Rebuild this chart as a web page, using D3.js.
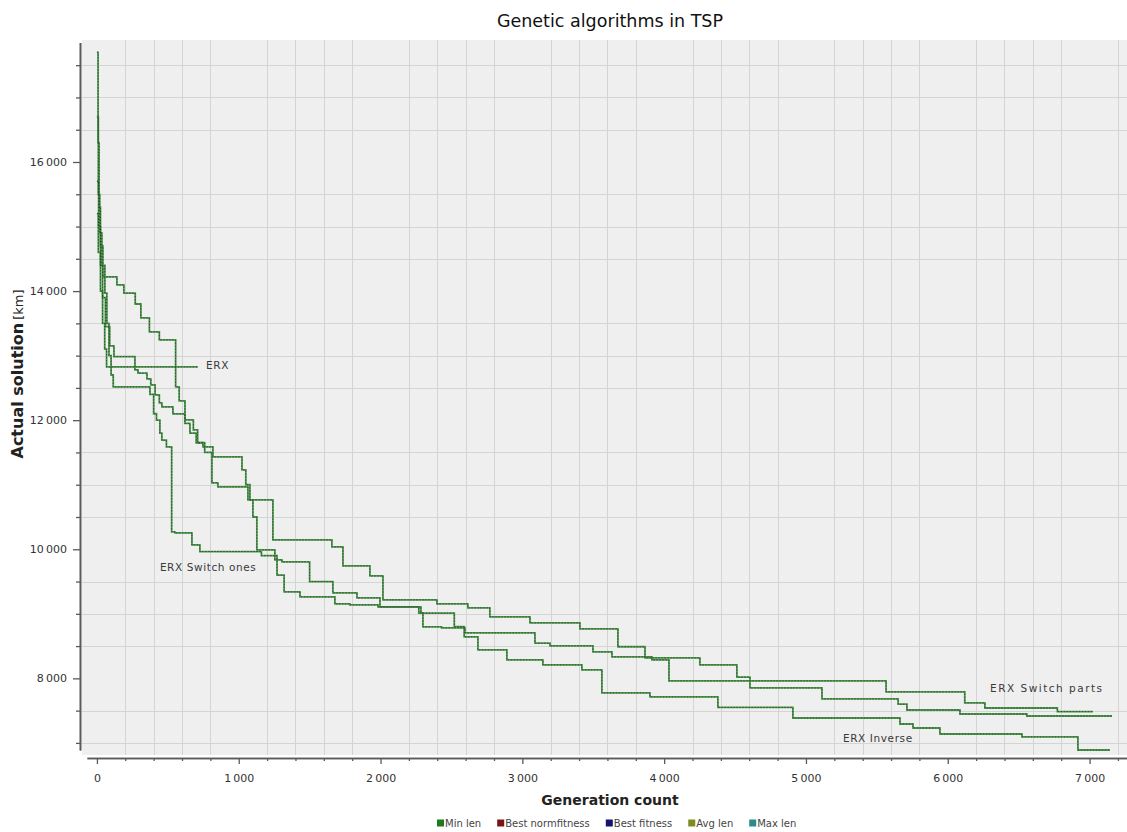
<!DOCTYPE html>
<html>
<head>
<meta charset="utf-8">
<script src="https://cdn.jsdelivr.net/npm/d3@7/dist/d3.min.js"></script>
<style>
  body { margin: 0; background: #fff; }
  svg { display: block; font-family: "DejaVu Sans", Verdana, sans-serif; }
</style>
</head>
<body>
<svg id="chart" width="1127" height="832"></svg>
<script>
// step series: [generation, best length km]
var erx = [[0,15200],[10,14600],[25,14000],[40,13500],[55,13100],[68,12825],[712,12825]];

var erxSwitchOnes = [[0,16700],[10,15500],[20,14900],[35,14400],[56,13970],[70,13500],[85,13000],[100,12700],
  [115,12515],[374,12400],[400,12100],[420,12000],[444,11800],[458,11690],[490,11585],[527,10269],
  [550,10253],[670,10067],[726,9965],[1160,9900],[1270,9600],[1320,9340],[1432,9262],[1678,9154],
  [1784,9138],[1982,9107],[2270,9012],[2520,8800],[2590,8643],[2687,8441],[2891,8286],[3145,8208],
  [3420,8131],[3561,7774],[3900,7712],[4379,7550],[4908,7386],[5663,7293],[5755,7231],[5945,7138],
  [6523,7092],[6918,6890],[7144,6890]];

var erxSwitchParts = [[0,17700],[8,16300],[15,15300],[25,14700],[42,14220],[141,14095],[190,13970],
  [270,13800],[310,13584],[370,13367],[440,13243],[555,12515],[580,12298],[621,12004],[680,11850],
  [710,11650],[748,11585],[818,11431],[1023,11230],[1050,11000],[1079,10765],[1241,10145],
  [1657,10036],[1735,9742],[1925,9587],[2017,9216],[2398,9154],[2616,9092],[2771,8952],[3054,8860],
  [3406,8767],[3674,8490],[3865,8317],[4252,8208],[4513,8020],[4605,7851],[5113,7681],[5650,7600],
  [5712,7510],[6086,7448],[6558,7417],[7158,7417]];

var erxInverse = [[0,15700],[12,15000],[25,14400],[40,13900],[60,13450],[90,13150],[120,12985],
  [268,12780],[290,12730],[353,12640],[380,12546],[410,12391],[440,12267],[458,12205],[536,12097],
  [620,11950],[656,11800],[700,11650],[760,11500],[811,11030],[853,10966],[1065,10765],[1100,10500],
  [1128,9990],[1255,9835],[1305,9804],[1500,9500],[1664,9324],[1834,9246],[1996,9107],[2285,9014],
  [2299,8798],[2430,8782],[2595,8705],[3089,8545],[3195,8503],[3498,8410],[3632,8332],[3914,8286],
  [4034,7960],[5565,7790],[6120,7619],[6262,7541],[6773,7485],[7024,7485]];

var seriesList = [erx, erxSwitchOnes, erxSwitchParts, erxInverse];

// curve annotations: text, generation, value
var noteText = ['ERX', 'ERX Switch ones', 'ERX Switch parts', 'ERX Inverse'];
var noteGen = [770, 444, 6298, 5261];
var noteVal = [12790, 9670, 7790, 7010];

var xMajor = [0, 1000, 2000, 3000, 4000, 5000, 6000, 7000];
var yMajor = [8000, 10000, 12000, 14000, 16000];

var legendNames = ['Min len', 'Best normfitness', 'Best fitness', 'Avg len', 'Max len'];
var legendColors = ['#1e7a1e', '#7a1414', '#14146e', '#7c8c22', '#2c8a8a'];

var svg = d3.select('#chart');

var x = d3.scaleLinear().domain([-70, 7264]).range([87, 1127]);
var y = d3.scaleLinear().domain([6890, 17850]).range([750, 42.6]);

var xMinor = d3.range(0, 7201, 200).filter(function (d) { return d % 1000 !== 0; });
var yMinor = d3.range(7000, 17501, 500).filter(function (d) { return d % 2000 !== 0; });

var fmt = d3.formatLocale({ decimal: '.', thousands: '\u2009', grouping: [3], currency: ['', ''] }).format(',d');

// plot background
svg.append('rect')
  .attr('x', 82).attr('y', 40)
  .attr('width', 1045).attr('height', 715)
  .attr('fill', '#efefef');

// grid (minor only, like the original)
var grid = svg.append('g').attr('stroke', '#d4d4d4').attr('stroke-width', 1);
grid.selectAll('line.v').data(xMinor).enter().append('line')
  .attr('class', 'v')
  .attr('x1', function (d) { return Math.round(x(d)) + 0.5; })
  .attr('x2', function (d) { return Math.round(x(d)) + 0.5; })
  .attr('y1', 40).attr('y2', 755);
grid.selectAll('line.h').data(yMinor).enter().append('line')
  .attr('class', 'h')
  .attr('x1', 82).attr('x2', 1127)
  .attr('y1', function (d) { return Math.round(y(d)) + 0.5; })
  .attr('y2', function (d) { return Math.round(y(d)) + 0.5; });

// curves
var line = d3.line()
  .x(function (d) { return x(d[0]); })
  .y(function (d) { return y(d[1]); })
  .curve(d3.curveStepAfter);

var curves = svg.append('g').attr('fill', 'none');
curves.selectAll('path.base').data(seriesList).enter().append('path')
  .attr('class', 'base')
  .attr('d', line)
  .attr('stroke', '#4f9a4f')
  .attr('stroke-width', 1.8);
curves.selectAll('path.dots').data(seriesList).enter().append('path')
  .attr('class', 'dots')
  .attr('d', line)
  .attr('stroke', '#203820')
  .attr('stroke-width', 1)
  .attr('stroke-dasharray', '1.5,1.5')
  .attr('opacity', 0.75);

// annotations
svg.append('g').selectAll('text').data(noteText).enter().append('text')
  .attr('x', function (d, i) { return x(noteGen[i]); })
  .attr('y', function (d, i) { return y(noteVal[i]); })
  .attr('font-size', 10.5)
  .attr('letter-spacing', function (d) { return d === 'ERX Switch parts' ? 1.5 : 0.6; })
  .attr('fill', '#3a3a3a')
  .text(function (d) { return d; });

// axes
function styleAxis(g) {
  g.select('.domain').attr('stroke', '#5a5a5a').attr('stroke-width', 1.6);
  g.selectAll('.tick line').attr('stroke', '#5a5a5a').attr('stroke-width', 1.3);
  g.selectAll('.tick text').attr('fill', '#333').attr('font-size', 11)
    .attr('font-family', '"DejaVu Sans", Verdana, sans-serif');
}

var yAxisG = svg.append('g').attr('transform', 'translate(80,0)');
yAxisG.append('g')
  .call(d3.axisLeft(y).tickValues(yMinor).tickSize(4).tickSizeOuter(0).tickFormat(''))
  .call(styleAxis);
yAxisG.append('g')
  .call(d3.axisLeft(y).tickValues(yMajor).tickSize(7).tickSizeOuter(0).tickPadding(6).tickFormat(fmt))
  .call(styleAxis);

var xAxisG = svg.append('g').attr('transform', 'translate(0,758)');
xAxisG.append('g')
  .call(d3.axisBottom(x).tickValues(xMinor).tickSize(3).tickSizeOuter(0).tickFormat(''))
  .call(styleAxis);
xAxisG.append('g')
  .call(d3.axisBottom(x).tickValues(xMajor).tickSize(6).tickSizeOuter(0).tickPadding(10).tickFormat(fmt))
  .call(styleAxis);

// title and axis titles
svg.append('text')
  .attr('x', 610).attr('y', 27)
  .attr('text-anchor', 'middle')
  .attr('font-size', 17.5)
  .attr('fill', '#111')
  .text('Genetic algorithms in TSP');

svg.append('text')
  .attr('x', 610).attr('y', 805)
  .attr('text-anchor', 'middle')
  .attr('font-size', 14)
  .attr('font-weight', 'bold')
  .attr('fill', '#222')
  .text('Generation count');

var yTitle = svg.append('text')
  .attr('transform', 'translate(23,374) rotate(-90)')
  .attr('text-anchor', 'middle')
  .attr('fill', '#222');
yTitle.append('tspan').attr('font-size', 16).attr('font-weight', 'bold').text('Actual solution');
yTitle.append('tspan').attr('font-size', 13).attr('dx', 3).text('[km]');

// legend
var legend = svg.append('g').attr('transform', 'translate(437,827)');
var lx = 0;
legendNames.forEach(function (name, i) {
  var item = legend.append('g').attr('transform', 'translate(' + lx + ',0)');
  item.append('rect')
    .attr('x', 0).attr('y', -7.5)
    .attr('width', 7).attr('height', 7)
    .attr('fill', legendColors[i]);
  var t = item.append('text')
    .attr('x', 8).attr('y', 0)
    .attr('font-size', 10)
    .attr('fill', '#444')
    .text(name);
  lx += 8 + t.node().getComputedTextLength() + 16;
});
</script>
</body>
</html>
